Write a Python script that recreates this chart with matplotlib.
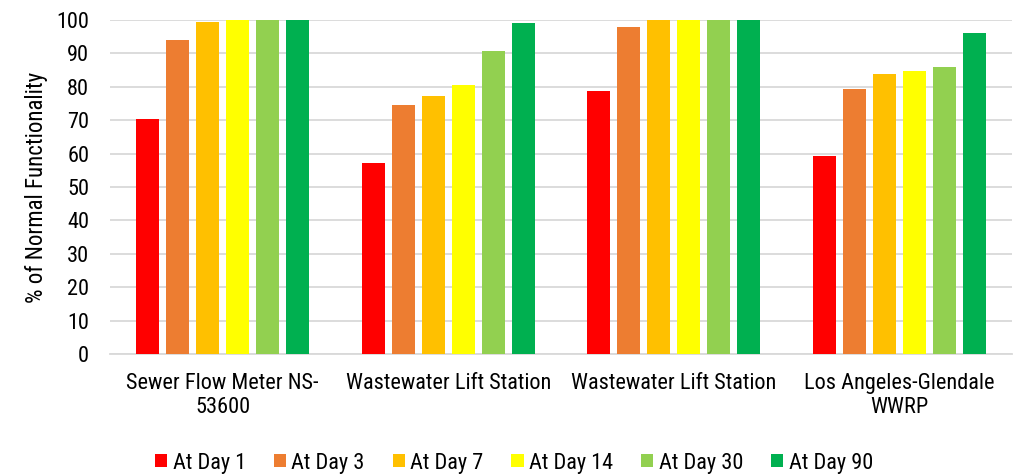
import numpy as np
import matplotlib.pyplot as plt

plt.rcParams['font.family'] = ['Roboto Condensed', 'Liberation Sans', 'DejaVu Sans']

facilities = ['Sewer Flow Meter NS-\n53600', 'Wastewater Lift Station',
              'Wastewater Lift Station', 'Los Angeles-Glendale\nWWRP']
days = ['At Day 1', 'At Day 3', 'At Day 7', 'At Day 14', 'At Day 30', 'At Day 90']
day1 = [70.4, 57.1, 78.6, 59.4]
day3 = [94.0, 74.6, 98.0, 79.2]
day7 = [99.3, 77.3, 100.0, 83.9]
day14 = [100.0, 80.4, 100.0, 84.6]
day30 = [100.0, 90.7, 100.0, 86.0]
day90 = [100.0, 99.0, 100.0, 96.0]
colors = ['#FF0000', '#ED7D31', '#FFC000', '#FFFF00', '#92D050', '#00B050']

series = [day1, day3, day7, day14, day30, day90]

fig = plt.figure(figsize=(10.28, 4.75), dpi=100)
ax = fig.add_axes([110/1028, 1 - 354/475, 902/1028, 334/475])

x = np.arange(len(facilities))
slot = 0.133
for i, (vals, c, lab) in enumerate(zip(series, colors, days)):
    ax.bar(x + (i - 2.5) * slot, vals, width=0.103, color=c, label=lab, zorder=3)

ax.set_xlim(-0.5, 3.5)
ax.set_ylim(0, 100)
ax.set_yticks(range(0, 101, 10))
ax.yaxis.grid(True, color='#d9d9d9', linewidth=1.3, zorder=0)
ax.set_xticks(x)
ax.set_xticklabels(facilities, fontsize=16, linespacing=1.15)
ax.tick_params(axis='y', labelsize=16, length=0, pad=15)
ax.tick_params(axis='x', length=0, pad=14)
for s in ['top', 'right', 'left']:
    ax.spines[s].set_visible(False)
ax.spines['bottom'].set_color('#d9d9d9')
ax.spines['bottom'].set_linewidth(1.3)
ax.set_ylabel('% of Normal Functionality', fontsize=16.5, labelpad=6)

fig.legend(loc='center', bbox_to_anchor=(0.5, 12/475), ncol=6, frameon=False,
           fontsize=16, handlelength=0.55, handleheight=0.55, handletextpad=0.25,
           columnspacing=1.25, borderpad=0)

fig.savefig('out.png', dpi=100)
